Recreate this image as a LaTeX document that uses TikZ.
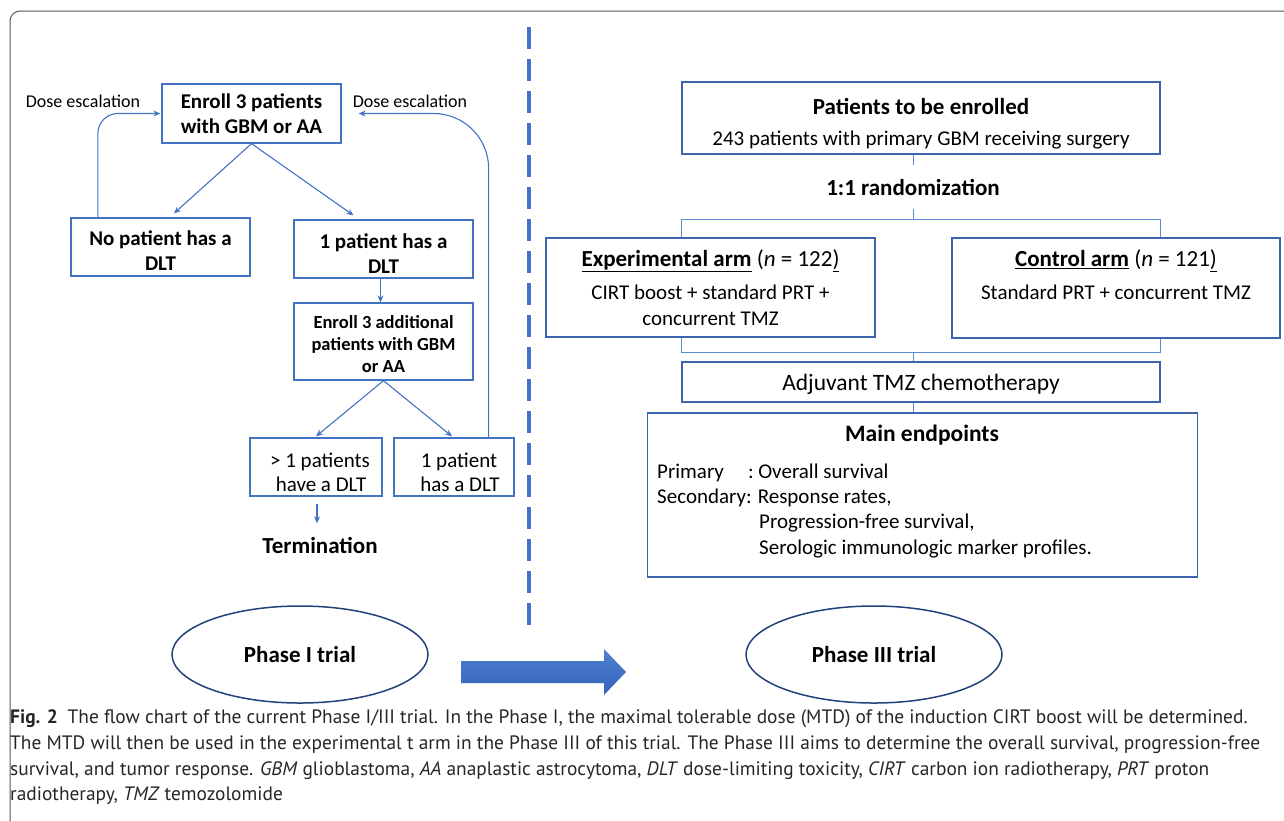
\documentclass[tikz,border=0pt]{standalone}
\usepackage{fontspec}
\setmainfont{Carlito}
\newfontfamily\capfont{PT Sans}
\usetikzlibrary{arrows.meta,shapes.geometric}
\definecolor{bl}{HTML}{4472C4}
\definecolor{rbl}{HTML}{3B64AD}
\definecolor{lbl}{HTML}{5B8BD0}
\definecolor{ebl}{HTML}{22407A}
\definecolor{agt}{HTML}{4F80D0}
\definecolor{agb}{HTML}{3462BA}
\definecolor{frm}{HTML}{555555}
\newcommand\mytp[1]{\rule{0pt}{#1}}
\begin{document}
\begin{tikzpicture}[x=1pt,y=-1pt,
  lbox/.style={draw=bl,line width=1.3pt,align=center,inner sep=0pt},
  rbox/.style={draw=rbl,line width=1.3pt,align=center,inner sep=0pt},
  conn/.style={draw=bl,line width=1.1pt,-{Stealth[length=7pt,width=6pt]}},
  rline/.style={draw=lbl,line width=1pt},
  fbold/.style={font=\fontsize{21}{25}\selectfont\bfseries},
  fbsmall/.style={font=\fontsize{18.5}{22}\selectfont\bfseries},
  freg/.style={font=\fontsize{21}{24}\selectfont},
  ftitle/.style={font=\fontsize{23}{28}\selectfont\bfseries},
  phase/.style={ellipse,draw=ebl,line width=1.5pt,inner sep=0pt,minimum height=97pt,font=\fontsize{23}{28}\selectfont\bfseries}
]
\useasboundingbox (0,0) rectangle (1284,820);
% frame
\draw[frm,line width=1pt,rounded corners=10pt] (10,830) -- (10,11) -- (1295,11);
% divider
\draw[bl,line width=4.5pt,dash pattern=on 22pt off 10pt] (529,27) -- (529,626);

% ---------- Phase I ----------
\node[lbox,fbold,minimum width=179pt,minimum height=59pt] (enroll) at (251.5,113.5) {Enroll 3 patients\\with GBM or AA};
\node[font=\fontsize{18}{22}\selectfont] (dosel) at (83,101) {Dose escalation};
\node[font=\fontsize{18}{22}\selectfont] (doser) at (410,101) {Dose escalation};
\node[lbox,fbold,minimum width=179pt,minimum height=58pt] (nopat) at (160.5,247) {\mytp{22.5pt}No patient has a\\DLT};
\node[lbox,fbold,minimum width=179pt,minimum height=58pt] (onepat) at (383.5,249) {\mytp{24.5pt}1 patient has a\\DLT};
\node[lbox,fbsmall,minimum width=179pt,minimum height=77pt] (add) at (383.5,341.5) {\mytp{19pt}Enroll 3 additional\\patients with GBM\\or AA};
\node[lbox,freg,minimum width=132pt,minimum height=58pt] (gt) at (316,467) {\mytp{24.5pt}\hspace*{8pt}{>} 1 patients\\\hspace*{10pt}have a DLT};
\node[lbox,freg,minimum width=120pt,minimum height=58pt] (one2) at (454,467) {\mytp{24.5pt}\hspace*{10pt}1 patient\\\hspace*{12pt}has a DLT};
\node[font=\fontsize{23}{28}\selectfont\bfseries] (term) at (320,545) {Termination};

\draw[conn] (enroll.south) -- ([xshift=13.5pt,yshift=4pt]nopat.north);
\draw[conn] (enroll.south) -- ([xshift=-30pt,yshift=4pt]onepat.north);
\draw[conn] ([xshift=-3pt]onepat.south) -- ([xshift=-3pt]add.north);
\draw[conn] (add.south) -- ([yshift=1pt]gt.north);
\draw[conn] (add.south) -- ([xshift=-2pt,yshift=1pt]one2.north);
\draw[conn] ([xshift=1pt,yshift=-7pt]gt.south) -- ([xshift=-3pt,yshift=10pt]term.north);
\draw[conn,rounded corners=20pt] ([xshift=27.5pt]nopat.north west) |- ([xshift=-1pt]enroll.west);
\draw[conn,rounded corners=55pt] ([xshift=-26pt]one2.north east) |- ([xshift=17pt]enroll.east);

% ---------- Phase III ----------
\coordinate (sp) at (913,0);
\node[rbox,freg,minimum width=478pt,minimum height=72pt] (pat) at (921,118)
  {{\fontsize{23}{28}\selectfont\bfseries\mytp{27pt}Patients to be enrolled}\\[7pt]243 patients with primary GBM receiving surgery};
\node[ftitle,minimum height=44pt,inner sep=0pt] (rand) at (913,187) {1:1 randomization};
\coordinate (br) at (913,219);
\node[rbox,font=\fontsize{21}{26}\selectfont,minimum width=329pt,minimum height=99pt] (exp) at (710.5,287.5)
  {{\fontsize{23}{28}\selectfont\textbf{\underline{Experimental arm}} (\textit{n} = 122\underline{)}}\\[7pt]CIRT boost + standard PRT +\\concurrent TMZ};
\node[rbox,font=\fontsize{21}{26}\selectfont,minimum width=328pt,minimum height=100pt] (ctl) at (1116,288)
  {{\fontsize{23}{28}\selectfont\textbf{\underline{Control arm}} (\textit{n} = 121\underline{)}}\\[7pt]Standard PRT + concurrent TMZ\\\phantom{concurrent TMZ}};
\coordinate (bj) at (913,352);
\node[rbox,font=\fontsize{23.5}{28}\selectfont,minimum width=478pt,minimum height=40pt] (adj) at (921,382) {\mytp{21pt}Adjuvant TMZ chemotherapy};
\node[rbox,minimum width=550pt,minimum height=164pt] (main) at (922.5,495) {};
\node[font=\fontsize{23.5}{28}\selectfont\bfseries] (mtitle) at (922,435) {Main endpoints};
\node[anchor=north west,align=left,inner sep=0pt,font=\fontsize{21}{25.3}\selectfont] (ep) at (657,463.5)
  {\makebox[91pt][l]{Primary}:\hspace{4.5pt}Overall survival\\
   Secondary:\hspace{6pt}Response rates,\\
   \hspace*{102pt}Progression-free survival,\\
   \hspace*{102pt}Serologic immunologic marker profiles.};

\draw[rline] (pat.south -| sp) -- (rand.north -| sp);
\draw[rline] (rand.south -| sp) -- (br);
\draw[rline] (exp.north -| pat.west) -- (br -| pat.west) -- (br -| pat.east) -- (ctl.north -| pat.east);
\draw[rline] (exp.south -| pat.west) -- (bj -| pat.west) -- (bj -| pat.east) -- (ctl.south -| pat.east);
\draw[rline] (bj) -- (adj.north -| sp);
\draw[rline] (adj.south -| sp) -- (main.north -| sp);

% ---------- bottom ----------
\node[phase,minimum width=256pt] (ph1) at (300,654.5) {Phase I trial};
\node[phase,minimum width=256pt] (ph3) at (874,654.5) {Phase III trial};
\shade[top color=agt,bottom color=agb] (461,661) -- (604,661) -- (604,649) -- (626,672) -- (604,695) -- (604,683) -- (461,683) -- cycle;

\node[anchor=north west,align=left,inner sep=0pt,font=\capfont\fontsize{19.4}{25.8}\selectfont,text=black!85] (cap) at (10,709.5)
 {{\textbf{Fig. 2}}\enspace The flow chart of the current Phase I/III trial. In the Phase I, the maximal tolerable dose (MTD) of the induction CIRT boost will be determined.\\
 The MTD will then be used in the experimental t arm in the Phase III of this trial. The Phase III aims to determine the overall survival, progression-free\\
 survival, and tumor response. \textit{GBM} glioblastoma, \textit{AA} anaplastic astrocytoma, \textit{DLT} dose-limiting toxicity, \textit{CIRT} carbon ion radiotherapy, \textit{PRT} proton\\
 radiotherapy, \textit{TMZ} temozolomide};
\end{tikzpicture}
\end{document}
